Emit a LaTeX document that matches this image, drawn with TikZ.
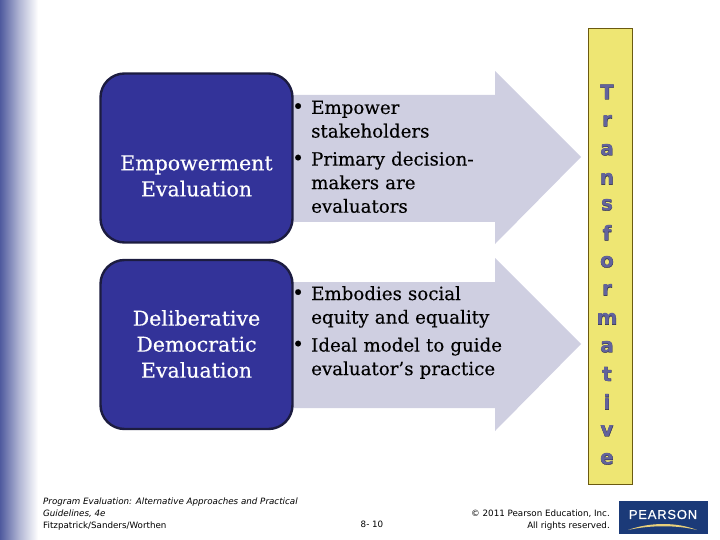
\documentclass[tikz,border=0pt]{standalone}
\usepackage{fontspec}
\setmainfont{DejaVu Serif}[FakeBold=0.25]
\newfontfamily\tahomaish{DejaVu Sans}[Scale=0.86]
\newfontfamily\lettersf{DejaVu Sans Bold}[FakeBold=1.5]
\newfontfamily\lettertop{DejaVu Sans Bold}
\usetikzlibrary{shadings}
\definecolor{boxblue}{HTML}{333399}
\definecolor{boxedge}{HTML}{1C1C40}
\definecolor{arrowfill}{HTML}{CFCFE1}
\definecolor{bandyellow}{HTML}{EEE673}
\definecolor{bandedge}{HTML}{6B5A10}
\definecolor{letterblue}{HTML}{62639C}
\definecolor{letteredge}{HTML}{2E2E55}
\definecolor{pearson}{HTML}{1B3A78}
\definecolor{pearsongold}{HTML}{E8CF7A}
\definecolor{sideblue}{HTML}{4F5A9E}
\tikzset{
  x=1pt,y=-1pt,
  evalbox/.style={draw=boxedge,fill=boxblue,line width=2.4pt,rounded corners=24pt,minimum width=192pt,minimum height=169pt,inner sep=0pt},
  boxlabel/.style={text=white,inner sep=0pt,align=center,font=\fontsize{20.5}{26}\selectfont},
  bigarrow/.style={fill=arrowfill,draw=none},
  bullettext/.style={anchor=north west,align=left,inner sep=0pt,font=\fontsize{18.2}{23.6}\selectfont,text width=230pt},
  footer/.style={inner sep=0pt,font=\tahomaish\fontsize{10.15}{11.8}\selectfont,align=left},
  letterback/.style={inner sep=0pt,text=letteredge,font=\lettersf\fontsize{20}{20}\selectfont},
  letterfront/.style={inner sep=0pt,text=letterblue,font=\lettertop\fontsize{20}{20}\selectfont},
}
\newcommand{\bulletmark}{\makebox[19pt][l]{\raisebox{0.5pt}{\fontsize{20}{23.6}\selectfont •}}}
\begin{document}
\begin{tikzpicture}
\useasboundingbox (0,0) rectangle (720,540);
\shade[left color=sideblue,right color=white,middle color=sideblue!45] (0,0) rectangle (38,540);
% arrows
\fill[bigarrow] (285,95) -- (495,95) -- (495,71) -- (581,157) -- (495,244) -- (495,222) -- (285,222) -- cycle;
\fill[bigarrow] (285,282) -- (495,282) -- (495,258) -- (581,344) -- (495,431) -- (495,408) -- (285,408) -- cycle;
% boxes
\node[evalbox] (empbox) at (196.5,158) {};
\node[evalbox] (delbox) at (196.5,344.5) {};
\node[boxlabel] (emplabel) at (196.5,176) {Empowerment\\Evaluation};
\node[boxlabel] (dellabel) at (196.5,344) {Deliberative\\Democratic\\Evaluation};
% bullet text
\node[bullettext] (b1) at (292,100.5) {\bulletmark Empower\\\hspace*{19pt}stakeholders};
\node[bullettext] (b2) at (292,151.5) {\bulletmark Primary decision-\\\hspace*{19pt}makers are\\\hspace*{19pt}evaluators};
\node[bullettext] (b3) at (292,286) {\bulletmark Embodies social\\\hspace*{19pt}equity and equality};
\node[bullettext] (b4) at (292,337.5) {\bulletmark Ideal model to guide\\\hspace*{19pt}evaluator’s practice};
% yellow band
\node[draw=bandedge,fill=bandyellow,line width=0.8pt,minimum width=44pt,minimum height=456pt,inner sep=0pt] (band) at (610,256) {};
\foreach \ch/\yy [count=\i] in {T/92,r/121,a/150,n/179,s/205,f/233,o/262,r/290,m/319,a/347,t/374,i/402,v/431,e/459}{
  \node[letterback] (lb\i) at (607,\yy) {\ch};
  \node[letterfront] (lf\i) at (607,\yy) {\ch};
}
% footer
\node[footer,anchor=north west] (f1) at (43,498) {\textit{Program Evaluation: Alternative Approaches and Practical}\\\textit{Guidelines, 4e}\\Fitzpatrick/Sanders/Worthen};
\node[footer,anchor=center] (f2) at (372,524) {8- 10};
\node[footer,anchor=north east,align=right] (f3) at (610,509.5) {© 2011 Pearson Education, Inc.\\All rights reserved.};
% logo
\node[fill=pearson,minimum width=89pt,minimum height=33pt,inner sep=0pt] (logo) at (663.5,517.5) {};
\node[inner sep=0pt,text=white] (logotext) at (663,514.5) {\fontspec{Liberation Sans}[FakeBold=0.5,LetterSpace=6]\fontsize{13}{15}\selectfont PEARSON};
\fill[pearsongold] (628,530) .. controls (650,522) and (677,522) .. (697,530) .. controls (677,525) and (650,525) .. (628,530) -- cycle;
\end{tikzpicture}
\end{document}
